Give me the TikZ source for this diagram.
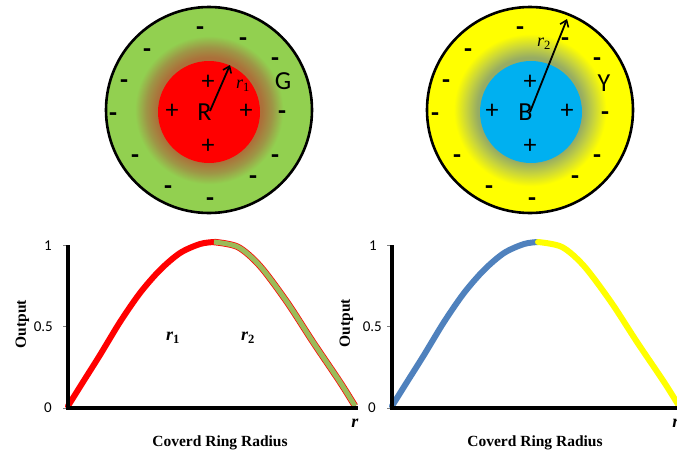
\documentclass[tikz,border=0pt]{standalone}
\usepackage{fontspec}
\setmainfont{Liberation Serif}
\newfontfamily\calfont{Carlito}
\usetikzlibrary{arrows.meta}
\definecolor{gfill}{RGB}{146,208,80}
\definecolor{halobrown}{RGB}{172,112,58}
\definecolor{halomid}{RGB}{158,150,70}
\definecolor{bfill}{RGB}{0,176,240}
\definecolor{yfill}{RGB}{255,255,0}
\definecolor{halogreen}{RGB}{150,172,100}
\definecolor{haloyel}{RGB}{200,212,60}
\definecolor{curveblue}{RGB}{79,129,189}
\definecolor{curvegreen}{RGB}{155,187,89}
\pgfdeclareradialshading{glowR}{\pgfpoint{0bp}{0bp}}{color(0bp)=(halobrown); color(12.8bp)=(halobrown); color(15.3bp)=(halomid); color(18bp)=(gfill); color(25bp)=(gfill); color(50bp)=(gfill)}
\pgfdeclareradialshading{glowB}{\pgfpoint{0bp}{0bp}}{color(0bp)=(halogreen); color(12.8bp)=(halogreen); color(15.5bp)=(haloyel); color(18.5bp)=(yfill); color(25bp)=(yfill); color(50bp)=(yfill)}
\begin{document}
\begin{tikzpicture}[x=1pt,y=-1pt,
  ring/.style={draw=black, line width=2.6pt},
  chg/.style={font=\calfont\fontsize{26}{26}\selectfont, inner sep=0pt},
  minus/.style={font=\calfont\bfseries\fontsize{26}{26}\selectfont, inner sep=0pt, anchor=base, yshift=-7pt},
  letter/.style={font=\calfont\fontsize{26}{26}\selectfont, inner sep=0pt},
  rlab/.style={font=\fontsize{18}{18}\selectfont, inner sep=0pt},
  radarrow/.style={line width=1.8pt, -{Straight Barb[length=6pt,width=9pt,line width=1.6pt]}},
  axis/.style={line width=4pt},
  tickmark/.style={line width=0.8pt, draw=gray},
  ticklab/.style={font=\calfont\fontsize{15}{15}\selectfont, inner sep=0pt},
  axlab/.style={font=\bfseries\fontsize{15.5}{15.5}\selectfont, inner sep=0pt},
  plotr/.style={font=\bfseries\fontsize{18}{18}\selectfont, inner sep=0pt},
  curve/.style={line width=6pt, line cap=round}
]
\useasboundingbox (0,0) rectangle (677,455);

% ---------- left disc ----------
\shade[shading=glowR] (209,110) circle (103);
\fill[red] (209,112) circle (51);
\draw[ring] (209,110) circle (103);
\coordinate (cL) at (210,111);
\coordinate (eL) at (230,65);
\draw[radarrow] (cL) -- (eL);
\node[letter] (R) at (204.5,112) {R};
\node[letter] (G) at (283,81) {G};
\node[rlab] (r1c) at (243,86) {\textit{r}\textsubscript{1}};
\node[chg] (pL1) at (208,82) {+};
\node[chg] (pL2) at (172,111) {+};
\node[chg] (pL3) at (246,111) {+};
\node[chg] (pL4) at (208,146) {+};
\foreach \x/\y [count=\i] in {200/28,243/39,147/50,275/59,124/81,113/114,282/112,135/156,275/156,253/177,168/187,210/199}
  \node[minus] (mL\i) at (\x,\y) {-};

% ---------- right disc ----------
\shade[shading=glowB] (530,110) circle (103);
\fill[bfill] (531,112) circle (51);
\draw[ring] (530,110) circle (103);
\coordinate (cR) at (530,112);
\coordinate (eR) at (567,19);
\draw[radarrow] (cR) -- (eR);
\node[letter] (B) at (525.5,112) {B};
\node[letter] (Y) at (604,83) {Y};
\node[rlab] (r2c) at (544,44) {\textit{r}\textsubscript{2}};
\node[chg] (pR1) at (530,82) {+};
\node[chg] (pR2) at (492,111) {+};
\node[chg] (pR3) at (567,111) {+};
\node[chg] (pR4) at (530,146) {+};
\foreach \x/\y [count=\i] in {520/28,565/39,468/50,597/59,446/81,435/114,605/113,457/156,597/156,575/177,489/187,532/199}
  \node[minus] (mR\i) at (\x,\y) {-};

% ---------- left plot ----------
\coordinate (oA) at (68,408);
\coordinate (yA) at (68,245);
\coordinate (xA) at (358,408);
\draw[tickmark] (68,245) -- (63,245);
\draw[tickmark] (68,326.5) -- (63,326.5);
\draw[tickmark] (68,408) -- (63,408);
\draw[curve, red] plot[smooth] coordinates {(68,406) (83,382) (100,355) (120,322) (140,293) (160,270) (180,253) (200,244) (214,242)};
\draw[line width=6.5pt, red] plot[smooth] coordinates {(214,242) (238,247) (260,266) (287,302) (313,342) (340,382) (355,406)};
\draw[line width=5pt, curvegreen] plot[smooth] coordinates {(214,242) (238,247) (260,266) (287,302) (313,342) (340,382) (355,406)};
\draw[axis] ([yshift=2pt]oA) -- (yA);
\draw[axis] ([xshift=-2pt]oA) -- (xA);
\node[ticklab] (t1A) at (48,246) {1};
\node[ticklab, anchor=east] (t5A) at (53,327) {0.5};
\node[ticklab] (t0A) at (48,408) {0};
\node[axlab, rotate=90] (outA) at (22.5,324) {Output};
\node[axlab] (xlA) at (220,443) {Coverd Ring Radius};
\node[plotr] (rA) at (355,423) {\textit{r}};
\node[plotr] (r1p) at (173,338) {\textit{r}\textsubscript{1}};
\node[plotr] (r2p) at (248,338) {\textit{r}\textsubscript{2}};

% ---------- right plot ----------
\coordinate (oB) at (392,408);
\coordinate (yB) at (392,245);
\coordinate (xB) at (680,408);
\draw[tickmark] (392,245) -- (387,245);
\draw[tickmark] (392,326.5) -- (387,326.5);
\draw[tickmark] (392,408) -- (387,408);
\begin{scope}[xshift=324pt]
\draw[curve, curveblue] plot[smooth] coordinates {(68,406) (83,382) (100,355) (120,322) (140,293) (160,270) (180,253) (200,244) (214,242)};
\draw[curve, yfill] plot[smooth] coordinates {(214,242) (238,247) (260,266) (287,302) (313,342) (340,382) (355,406)};
\end{scope}
\draw[axis] ([yshift=2pt]oB) -- (yB);
\draw[axis] ([xshift=-2pt]oB) -- (xB);
\node[ticklab] (t1B) at (373,246) {1};
\node[ticklab, anchor=east] (t5B) at (382,327) {0.5};
\node[ticklab] (t0B) at (372,408) {0};
\node[axlab, rotate=90] (outB) at (346.5,323) {Output};
\node[axlab] (xlB) at (535,443) {Coverd Ring Radius};
\node[plotr] (rB) at (676,423) {\textit{r}};
\end{tikzpicture}
\end{document}
